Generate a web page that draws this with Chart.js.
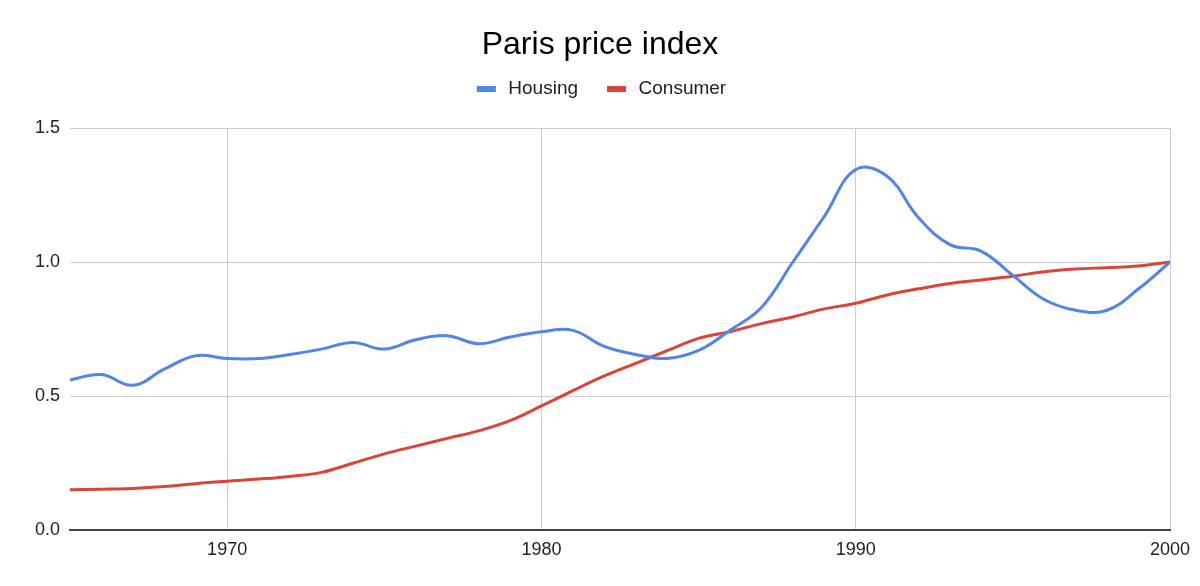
<!DOCTYPE html>
<html>
<head>
<meta charset="utf-8">
<title>Paris price index</title>
<script src="https://cdn.jsdelivr.net/npm/chart.js@4/dist/chart.umd.min.js"></script>
<style>
    html, body { margin: 0; padding: 0; background: #fff; }
    #wrap { width: 1200px; height: 586px; }
</style>
</head>
<body>
<div id="wrap"><canvas id="priceChart"></canvas></div>
<script>
// ================================================
// DATA
// ================================================

const years = [1965, 1966, 1967, 1968, 1969, 1970, 1971, 1972, 1973, 1974, 1975, 1976,
               1977, 1978, 1979, 1980, 1981, 1982, 1983, 1984, 1985, 1986, 1987, 1988,
               1989, 1990, 1991, 1992, 1993, 1994, 1995, 1996, 1997, 1998, 1999, 2000];

const housing = [0.56, 0.58, 0.54, 0.60, 0.65, 0.64, 0.64, 0.655, 0.675, 0.70, 0.675, 0.71,
                 0.725, 0.695, 0.72, 0.74, 0.745, 0.685, 0.655, 0.64, 0.67, 0.745, 0.83, 1.00,
                 1.17, 1.345, 1.32, 1.165, 1.065, 1.04, 0.95, 0.86, 0.82, 0.82, 0.90, 1.00];

const consumer = [0.15, 0.152, 0.155, 0.162, 0.173, 0.182, 0.19, 0.20, 0.215, 0.249, 0.284, 0.313,
                  0.342, 0.37, 0.408, 0.463, 0.52, 0.575, 0.622, 0.669, 0.715, 0.74, 0.77, 0.795,
                  0.825, 0.846, 0.877, 0.90, 0.92, 0.933, 0.947, 0.964, 0.974, 0.979, 0.985, 1.00];

const xTicks = [1970, 1980, 1990, 2000];
const yTicks = [0, 0.5, 1.0, 1.5];

const FONT = "'Liberation Sans', Arial, Helvetica, sans-serif";

// ================================================
// CHART
// ================================================

// push the plot area down below the legend
const legendSpacer = {
    id: 'legendSpacer',
    beforeInit(chart) {
        const fit = chart.legend.fit;
        chart.legend.fit = function() {
            fit.bind(chart.legend)();
            this.height += 19.5;
        };
    }
};

function toPoints(values) {
    return years.map((yr, i) => ({ x: yr, y: values[i] }));
}

// small flat legend swatches: a white outline trims the box and widens the gap to the text
function legendLabels(chart) {
    return Chart.defaults.plugins.legend.labels.generateLabels(chart).map(item => {
        item.strokeStyle = '#ffffff';
        item.lineWidth = 6;
        return item;
    });
}

new Chart(document.getElementById('priceChart'), {
    type: 'line',
    data: {
        datasets: [
            {
                label: 'Housing',
                data: toPoints(housing),
                borderColor: '#4f86e8',
                backgroundColor: '#4f86e8',
                borderWidth: 3,
                tension: 0.4,
                pointRadius: 0
            },
            {
                label: 'Consumer',
                data: toPoints(consumer),
                borderColor: '#db4437',
                backgroundColor: '#db4437',
                borderWidth: 3,
                tension: 0.4,
                pointRadius: 0
            }
        ]
    },
    options: {
        responsive: true,
        maintainAspectRatio: false,
        animation: false,
        layout: {
            padding: { left: 30, right: 30, top: 0, bottom: 0 }
        },
        plugins: {
            title: {
                display: true,
                text: 'Paris price index',
                color: '#000',
                font: { family: FONT, size: 32, weight: 'normal' },
                padding: { top: 25.5, bottom: -10.4 }
            },
            legend: {
                position: 'top',
                labels: {
                    color: '#222',
                    font: { family: FONT, size: 19 },
                    boxWidth: 25,
                    boxHeight: 12,
                    padding: 26,
                    generateLabels: legendLabels
                }
            },
            tooltip: { enabled: false }
        },
        scales: {
            x: {
                type: 'linear',
                min: 1965,
                max: 2000,
                afterBuildTicks: axis => { axis.ticks = xTicks.map(v => ({ value: v })); },
                afterFit: axis => { axis.height = 56; },
                grid: { color: '#cccccc', drawTicks: false },
                border: { display: true, color: '#444444', width: 2 },
                ticks: {
                    color: '#222',
                    padding: 9,
                    maxRotation: 0,
                    font: { family: FONT, size: 18 },
                    callback: v => String(v)
                }
            },
            y: {
                min: 0,
                max: 1.5,
                afterBuildTicks: axis => { axis.ticks = yTicks.map(v => ({ value: v })); },
                afterFit: axis => { axis.width = 40; },
                grid: {
                    drawTicks: false,
                    color: ctx => (ctx.tick && ctx.tick.value === 0) ? 'rgba(0,0,0,0)' : '#cccccc'
                },
                border: { display: false },
                ticks: {
                    color: '#222',
                    padding: 10,
                    font: { family: FONT, size: 18 },
                    callback: v => v.toFixed(1)
                }
            }
        }
    },
    plugins: [legendSpacer]
});
</script>
</body>
</html>
